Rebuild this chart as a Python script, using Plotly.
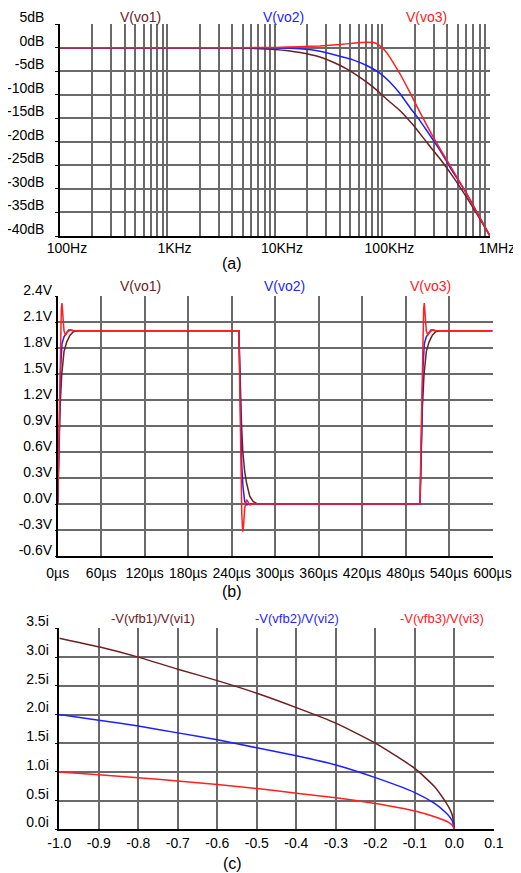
import plotly.graph_objects as go

W, H = 521, 873
OFF = 8  # page body margin in the browser
FONT = "Liberation Sans, Arial, sans-serif"
BROWN = "#6b2121"
BLUE = "#1f1fff"
RED = "#ff2020"
GRID = "#6a6a6a"

# ---------------- Panel (a): Bode magnitude ----------------
f_vo1 = [100, 1000, 5000, 10000, 17100, 26200, 34900, 46400, 61800, 82100,
         109000, 146000, 194000, 258000, 343000, 456000, 607000, 808000, 1000000]
vo1_db = [0, 0, -0.1, -0.4, -1.04, -2.0, -3.1, -4.5, -6.3, -8.4,
          -10.9, -13.4, -16.5, -20.1, -23.6, -27.5, -31.8, -36.4, -40.0]
f_vo2 = [100, 1000, 5000, 10000, 17100, 26200, 40100, 53200, 71300, 94500,
         117000, 146000, 180000, 209000, 258000, 343000, 425000, 607000, 1000000]
vo2_db = [0, 0, 0, -0.05, -0.26, -0.76, -1.82, -2.6, -3.8, -5.4,
          -7.3, -9.8, -12.7, -14.6, -17.6, -21.8, -25.4, -31.0, -40.0]
f_vo3 = [100, 1000, 5000, 10000, 17100, 26200, 40100, 53200, 71300, 82100,
         91500, 101800, 117000, 131000, 146000, 180000, 223000, 297000, 425000,
         607000, 1000000]
vo3_db = [0, 0, 0, 0.05, 0.2, 0.37, 0.66, 0.94, 1.15, 1.08,
          0.66, -0.26, -2.0, -3.8, -5.6, -9.5, -13.7, -19.0, -25.0,
          -31.0, -40.0]
a_xtick_vals = [100, 200, 300, 400, 500, 600, 700, 800, 900,
                1000, 2000, 3000, 4000, 5000, 6000, 7000, 8000, 9000,
                10000, 20000, 30000, 40000, 50000, 60000, 70000, 80000, 90000,
                100000, 200000, 300000, 400000, 500000, 600000, 700000, 800000, 900000,
                1000000]
a_xtick_text = ["100Hz"] + [""] * 8 + ["1KHz"] + [""] * 8 + ["10KHz"] + [""] * 8 + \
               ["100KHz"] + [""] * 8 + ["1MHz"]
a_ytick_vals = [5, 0, -5, -10, -15, -20, -25, -30, -35, -40]
a_ytick_text = ["5dB", "0dB", "-5dB", "-10dB", "-15dB", "-20dB", "-25dB", "-30dB", "-35dB", "-40dB"]

# ---------------- Panel (b): transient ----------------
t_vo1 = [0, 1, 2, 3.2, 5.5, 8.7, 12.4, 17, 21.6, 27, 250,
         251, 252, 253.5, 255.5, 258, 260.7, 265, 269.6, 276, 500,
         501, 502, 503.2, 505.5, 508.7, 512.4, 517, 521.6, 527, 600]
v_vo1 = [0, 0.4, 0.75, 1.1, 1.49, 1.76, 1.87, 1.95, 1.99, 2.0, 2.0,
         1.65, 1.3, 0.95, 0.6, 0.38, 0.24, 0.09, 0.03, 0.0, 0.0,
         0.4, 0.75, 1.1, 1.49, 1.76, 1.87, 1.95, 1.99, 2.0, 2.0]
t_vo2 = [0, 1, 2, 3, 4.1, 5.9, 8.7, 12.4, 15, 18, 22, 250,
         251, 252, 253, 254, 255.7, 258, 261, 264, 500,
         501, 502, 503, 504.1, 505.9, 508.7, 512.4, 515, 518, 522, 600]
v_vo2 = [0, 0.45, 0.9, 1.25, 1.57, 1.85, 1.93, 1.98, 2.01, 2.01, 2.0, 2.0,
         1.55, 1.1, 0.75, 0.45, 0.2, 0.03, -0.01, 0.0, 0.0,
         0.45, 0.9, 1.25, 1.57, 1.85, 1.93, 1.98, 2.01, 2.01, 2.0, 2.0]
t_vo3 = [0, 1, 2, 3, 4.1, 5.0, 5.9, 7, 8.7, 10.9, 13, 17, 21, 250,
         251, 252, 253, 254, 255.2, 256.5, 258, 260.7, 263, 265, 270, 500,
         501, 502, 503, 504.1, 505.0, 505.9, 507, 508.7, 510.9, 513, 517, 521, 600]
v_vo3 = [0, 0.55, 1.1, 1.6, 2.0, 2.25, 2.32, 2.2, 2.0, 1.95, 1.98, 2.01, 2.0, 2.0,
         1.45, 0.85, 0.3, -0.1, -0.32, -0.25, -0.05, 0.05, 0.02, -0.01, 0.0, 0.0,
         0.55, 1.1, 1.6, 2.0, 2.25, 2.32, 2.2, 2.0, 1.95, 1.98, 2.01, 2.0, 2.0]
b_xtick_vals = [0, 60, 120, 180, 240, 300, 360, 420, 480, 540, 600]
b_xtick_text = ["0µs", "60µs", "120µs", "180µs", "240µs", "300µs", "360µs",
                "420µs", "480µs", "540µs", "600µs"]
b_ytick_vals = [2.4, 2.1, 1.8, 1.5, 1.2, 0.9, 0.6, 0.3, 0.0, -0.3, -0.6]
b_ytick_text = ["2.4V", "2.1V", "1.8V", "1.5V", "1.2V", "0.9V", "0.6V",
                "0.3V", "0.0V", "-0.3V", "-0.6V"]

# ---------------- Panel (c): imaginary ratio ----------------
c_x = [-1.0, -0.9, -0.8, -0.7, -0.6, -0.5, -0.4, -0.3, -0.2, -0.1,
       -0.05, -0.02, -0.01, -0.005, 0.0]
fb1_im = [3.33, 3.18, 3.0, 2.79, 2.59, 2.37, 2.12, 1.85, 1.50, 1.06,
          0.74, 0.45, 0.33, 0.24, 0.0]
fb2_im = [2.0, 1.90, 1.80, 1.68, 1.56, 1.42, 1.28, 1.12, 0.90, 0.64,
          0.45, 0.28, 0.2, 0.14, 0.0]
fb3_im = [1.0, 0.95, 0.90, 0.84, 0.78, 0.71, 0.63, 0.55, 0.45, 0.32,
          0.22, 0.14, 0.1, 0.07, 0.0]
c_xtick_vals = [-1.0, -0.9, -0.8, -0.7, -0.6, -0.5, -0.4, -0.3, -0.2, -0.1, 0.0, 0.1]
c_xtick_text = ["-1.0", "-0.9", "-0.8", "-0.7", "-0.6", "-0.5", "-0.4", "-0.3",
                "-0.2", "-0.1", "0.0", "0.1"]
c_ytick_vals = [3.5, 3.0, 2.5, 2.0, 1.5, 1.0, 0.5, 0.0]
c_ytick_text = ["3.5i", "3.0i", "2.5i", "2.0i", "1.5i", "1.0i", "0.5i", "0.0i"]

names_a = ["V(vo1)", "V(vo2)", "V(vo3)"]
names_c = ["-V(vfb1)/V(vi1)", "-V(vfb2)/V(vi2)", "-V(vfb3)/V(vi3)"]
colors = [BROWN, BLUE, RED]


def px_x(p):
    return (p - OFF) / W


def px_y(p):
    return 1 - (p - OFF) / H


fig = go.Figure()
for name, fs, ys, c in zip(names_a, [f_vo1, f_vo2, f_vo3], [vo1_db, vo2_db, vo3_db], colors):
    fig.add_trace(go.Scatter(x=fs, y=ys, mode="lines", name=name,
                             line=dict(color=c, width=1.5, shape="spline", smoothing=0.4),
                             xaxis="x", yaxis="y", showlegend=False))
for name, ts, vs, c in zip(names_a, [t_vo1, t_vo2, t_vo3], [v_vo1, v_vo2, v_vo3], colors):
    fig.add_trace(go.Scatter(x=ts, y=vs, mode="lines", name=name, line=dict(color=c, width=1.5),
                             xaxis="x2", yaxis="y2", showlegend=False))
for name, ys, c in zip(names_c, [fb1_im, fb2_im, fb3_im], colors):
    fig.add_trace(go.Scatter(x=c_x, y=ys, mode="lines", name=name,
                             line=dict(color=c, width=1.5, shape="spline", smoothing=0.5),
                             xaxis="x3", yaxis="y3", showlegend=False))

common = dict(showgrid=True, gridcolor=GRID, gridwidth=1.8, zeroline=False,
              showline=True, linecolor="black", linewidth=1.5, automargin=False,
              tickfont=dict(family=FONT, size=14, color="black"),
              ticks="outside", tickcolor="black", ticklen=3, tickmode="array")
xcommon = dict(common, ticks="", ticklen=0)

fig.update_layout(
    width=W, height=H,
    margin=dict(l=0, r=0, t=0, b=0, autoexpand=False),
    paper_bgcolor="white", plot_bgcolor="white",
    font=dict(family=FONT, size=14, color="black"),
    xaxis=dict(xcommon, type="log", range=[2, 6.0005], domain=[px_x(60), px_x(490)],
               tickvals=a_xtick_vals, ticktext=a_xtick_text, anchor="y",
               ticklabelshift=7, ticklabelstandoff=-2),
    yaxis=dict(common, range=[-40, 5.02], domain=[px_y(236), px_y(24)],
               tickvals=a_ytick_vals, ticktext=a_ytick_text, anchor="x",
               ticklabelshift=-7, ticklabelstandoff=8),
    xaxis2=dict(xcommon, range=[0, 600.3], domain=[px_x(57.7), px_x(492.7)],
                tickvals=b_xtick_vals, ticktext=b_xtick_text, anchor="y2",
                ticklabelstandoff=3),
    yaxis2=dict(common, range=[-0.6, 2.402], domain=[px_y(556), px_y(296)],
                tickvals=b_ytick_vals, ticktext=b_ytick_text, anchor="x2",
                ticklabelshift=-6, ticklabelstandoff=0, ticklen=1),
    xaxis3=dict(xcommon, range=[-1.0, 0.1003], domain=[px_x(59.3), px_x(494)],
                tickvals=c_xtick_vals, ticktext=c_xtick_text, anchor="y3",
                ticklabelstandoff=0),
    yaxis3=dict(common, range=[0, 3.502], domain=[px_y(829.3), px_y(628.3)],
                tickvals=c_ytick_vals, ticktext=c_ytick_text, anchor="x3",
                ticklabelshift=-7, ticklabelstandoff=3),
)

ann = []
label_pos_a = [(140, 17), (283, 17), (426, 17)]
label_pos_b = [(140, 286), (284, 286), (430, 286)]
label_pos_c = [(153, 618), (297, 618), (442, 618)]
for names, poss, size in [(names_a, label_pos_a, 14), (names_a, label_pos_b, 14), (names_c, label_pos_c, 13)]:
    for n, (x, y), c in zip(names, poss, colors):
        ann.append(dict(text=n, x=px_x(x), y=px_y(y), xref="paper", yref="paper",
                        showarrow=False, xanchor="center", yanchor="middle",
                        font=dict(family=FONT, size=size, color=c)))
for cap, y in [("(a)", 263), ("(b)", 591), ("(c)", 863)]:
    ann.append(dict(text=cap, x=px_x(232), y=px_y(y), xref="paper", yref="paper",
                    showarrow=False, xanchor="center", yanchor="middle",
                    font=dict(family=FONT, size=16, color="black")))
fig.update_layout(annotations=ann)

fig.write_html("out.html")
